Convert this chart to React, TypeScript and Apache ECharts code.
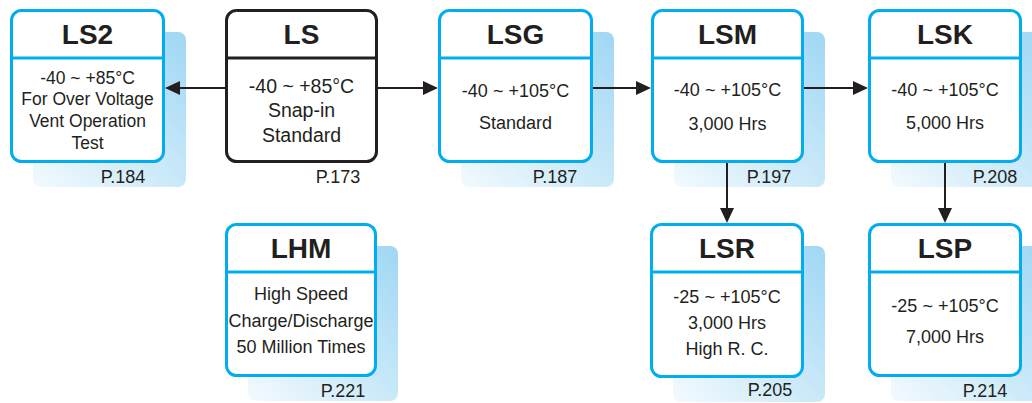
import React, { useEffect, useRef } from "react";
import * as echarts from "echarts";

// ---- Data ----
const names = ["LS2", "LS", "LSG", "LSM", "LSK", "LHM", "LSR", "LSP"];
const bodyLines: string[][] = [
  ["-40 ~ +85°C", "For Over Voltage", "Vent Operation", "Test"],
  ["-40 ~ +85°C", "Snap-in", "Standard"],
  ["-40 ~ +105°C", "Standard"],
  ["-40 ~ +105°C", "3,000 Hrs"],
  ["-40 ~ +105°C", "5,000 Hrs"],
  ["High Speed", "Charge/Discharge", "50 Million Times"],
  ["-25 ~ +105°C", "3,000 Hrs", "High R. C."],
  ["-25 ~ +105°C", "7,000 Hrs"],
];
const pages = ["P.184", "P.173", "P.187", "P.197", "P.208", "P.221", "P.205", "P.214"];
// links: [from, to]
const links: [string, string][] = [
  ["LS", "LS2"],
  ["LS", "LSG"],
  ["LSG", "LSM"],
  ["LSM", "LSK"],
  ["LSM", "LSR"],
  ["LSK", "LSP"],
];

// ---- Layout (positions / styles) ----
type Box = { x: number; y: number; w: number; h: number; lineY: number[]; pageX: number; pageY: number; black?: boolean; size?: number };
const layout: Record<string, Box> = {
  LS2: { x: 10, y: 9, w: 155, h: 154, lineY: [78, 99, 121, 143], pageX: 123, pageY: 177, size: 17.5 },
  LS: { x: 225, y: 9, w: 153, h: 154, lineY: [86, 110, 135], pageX: 338, pageY: 177, black: true, size: 19.5 },
  LSG: { x: 438, y: 9, w: 155, h: 154, lineY: [91, 123], pageX: 555, pageY: 177 },
  LSM: { x: 651, y: 9, w: 153, h: 154, lineY: [90, 124], pageX: 769, pageY: 177 },
  LSK: { x: 868, y: 9, w: 154, h: 154, lineY: [90, 123], pageX: 995, pageY: 177 },
  LHM: { x: 225, y: 223, w: 152, h: 154, lineY: [294, 321, 347], pageX: 343, pageY: 391 },
  LSR: { x: 650, y: 223, w: 154, h: 155, lineY: [297, 323, 349], pageX: 770, pageY: 390 },
  LSP: { x: 868, y: 223, w: 154, h: 154, lineY: [306, 337], pageX: 985, pageY: 391 },
};

const BLUE = "#00aeef";
const INK = "#231f20";
const FONT = '"Liberation Sans", Arial, Helvetica, sans-serif';

function buildGraphics() {
  const els: any[] = [];
  // shadows
  names.forEach((n) => {
    const b = layout[n];
    if (b.black) return;
    els.push({
      type: "rect",
      shape: { x: b.x + 23, y: b.y + 23, width: b.w - 2, height: b.h + 1, r: 8 },
      style: {
        fill: new echarts.graphic.LinearGradient(0, 1, 1, 0, [
          { offset: 0, color: "#f3fafe" },
          { offset: 1, color: "#9fd7f4" },
        ]),
      },
      z: 1,
    });
  });
  // links
  links.forEach(([from, to]) => {
    const a = layout[from];
    const b = layout[to];
    const head = 15;
    const half = 7;
    let x1: number, y1: number, x2: number, y2: number;
    if (a.y === b.y) {
      const y = a.y + 79;
      if (b.x > a.x) {
        x1 = a.x + a.w;
        x2 = b.x;
      } else {
        x1 = a.x;
        x2 = b.x + b.w;
      }
      y1 = y;
      y2 = y;
    } else {
      const x = b.x + b.w / 2;
      x1 = x;
      x2 = x;
      y1 = a.y + a.h;
      y2 = b.y;
    }
    const dx = Math.sign(x2 - x1);
    const dy = Math.sign(y2 - y1);
    const bx = x2 - dx * head;
    const by = y2 - dy * head;
    els.push({
      type: "line",
      shape: { x1, y1, x2: bx, y2: by },
      style: { stroke: INK, lineWidth: 2 },
      z: 2,
    });
    els.push({
      type: "polygon",
      shape: {
        points: [
          [x2, y2],
          [bx + dy * half, by + dx * half],
          [bx - dy * half, by - dx * half],
        ],
      },
      style: { fill: INK },
      z: 2,
    });
  });
  // boxes
  names.forEach((n, i) => {
    const b = layout[n];
    const col = b.black ? INK : BLUE;
    els.push({
      type: "rect",
      shape: { x: b.x + 1.5, y: b.y + 1.5, width: b.w - 3, height: b.h - 3, r: 10 },
      style: { fill: "#ffffff", stroke: col, lineWidth: 3 },
      z: 3,
    });
    els.push({
      type: "line",
      shape: { x1: b.x + 1, y1: b.y + 49, x2: b.x + b.w - 1, y2: b.y + 49 },
      style: { stroke: col, lineWidth: 3 },
      z: 4,
    });
    const cx = b.x + b.w / 2;
    els.push({
      type: "text",
      style: {
        text: n,
        x: cx,
        y: b.y + 25.5,
        align: "center",
        verticalAlign: "middle",
        fontSize: 28,
        fontWeight: "bold",
        fontFamily: FONT,
        fill: INK,
      },
      z: 5,
    });
    bodyLines[i].forEach((t, k) => {
      els.push({
        type: "text",
        style: {
          text: t,
          x: cx,
          y: b.lineY[k],
          align: "center",
          verticalAlign: "middle",
          fontSize: b.size || 18,
          fontFamily: FONT,
          fill: INK,
        },
        z: 5,
      });
    });
    els.push({
      type: "text",
      style: {
        text: pages[i],
        x: b.pageX,
        y: b.pageY,
        align: "center",
        verticalAlign: "middle",
        fontSize: 18,
        fontFamily: FONT,
        fill: INK,
      },
      z: 5,
    });
  });
  return els;
}

export default function App() {
  const ref = useRef<HTMLDivElement>(null);
  useEffect(() => {
    document.body.style.margin = "0";
    const chart = echarts.init(ref.current!, undefined, { renderer: "svg" });
    chart.setOption({
      animation: false,
      backgroundColor: "#ffffff",
      graphic: { elements: buildGraphics() },
    });
    return () => chart.dispose();
  }, []);
  return <div ref={ref} style={{ width: 1032, height: 403 }} />;
}
